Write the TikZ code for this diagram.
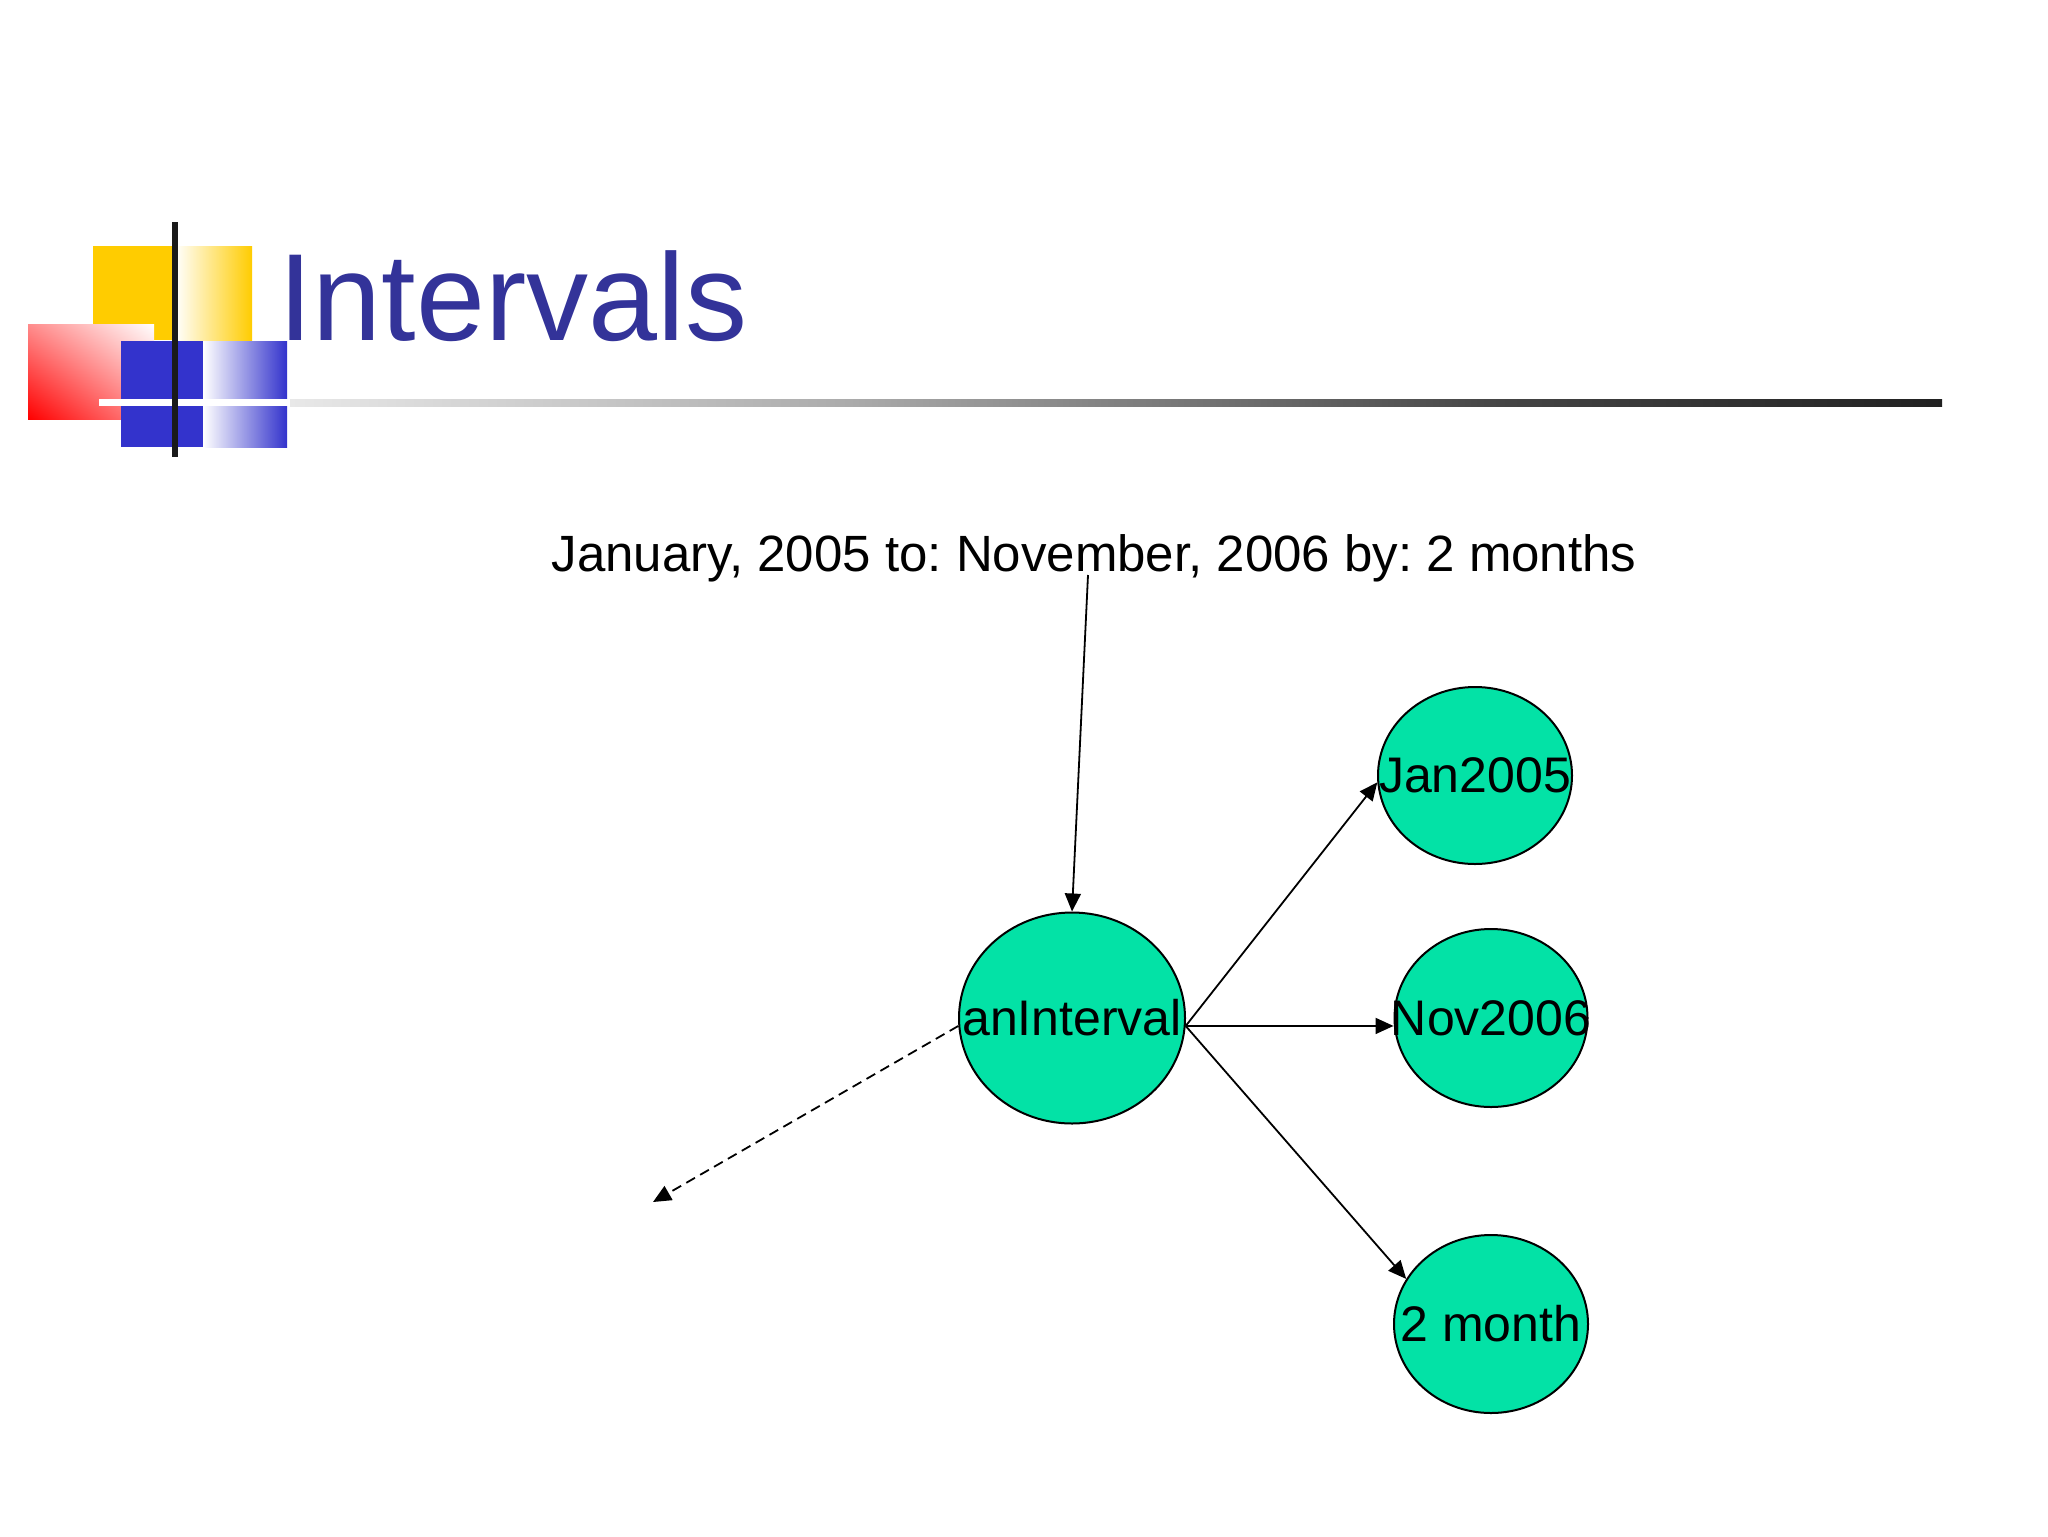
\documentclass[tikz,border=0pt]{standalone}
\usepackage{fontspec}
\setmainfont{Liberation Sans}
\usetikzlibrary{shapes.geometric,arrows.meta,shadings}
\definecolor{ttl}{HTML}{333399}
\definecolor{ylw}{HTML}{FFCC00}
\definecolor{blu}{HTML}{3333CC}
\definecolor{nodefill}{HTML}{03E2A6}
\definecolor{barblack}{HTML}{1A1A1A}
\frenchspacing
\tikzset{
  oval/.style={ellipse, draw=black, line width=1pt, fill=nodefill, inner sep=0pt,
    font=\fontsize{25pt}{30pt}\selectfont},
  arr/.style={line width=0.9pt, -{Triangle[length=9pt,width=8pt]}},
  dasharr/.style={arr, dash pattern=on 5pt off 3pt},
}
\begin{document}
\begin{tikzpicture}[x=0.5pt,y=-0.5pt]
\useasboundingbox (0,0) rectangle (2048,1536);
\fill[white] (0,0) rectangle (2048,1536);
% logo
\fill[ylw] (93,246) rectangle (175,340);
\shade[left color=white, right color=ylw] (175,246) rectangle (252,340);
\shade[lower left=red, upper right=white, upper left=red!45, lower right=red!45] (28,324) rectangle (154,419);
\fill[blu] (121,341) rectangle (203,447);
\shade[left color=white, right color=blu] (203,341) rectangle (287,447);
\fill[white] (99,399) rectangle (290,406);
\shade[left color=black!9, right color=black!33] (290,399) rectangle (850,406);
\shade[left color=black!33, right color=black!73] (850,399) rectangle (1500,406);
\shade[left color=black!73, right color=black!87] (1500,399) rectangle (1942,406);
\fill[barblack] (172,222) rectangle (178,457);
% title
\node[anchor=base west, inner sep=0pt, text=ttl, font=\fontsize{62pt}{70pt}\selectfont] (title) at (278,340) {Intervals};
% subtitle
\node[anchor=base, inner sep=0pt, font=\fontsize{25.5pt}{30pt}\selectfont] (sub) at (1094,571) {January, 2005 to: November, 2006 by: 2 months};
% nodes
\node[oval, minimum width=113pt, minimum height=105.5pt] (ai) at (1072,1018) {\makebox[0pt]{anInterval}};
\node[oval, minimum width=97pt, minimum height=88.5pt] (jan) at (1475,775.5) {\makebox[0pt]{Jan2005}};
\node[oval, minimum width=96.5pt, minimum height=89pt] (nov) at (1491,1018) {\makebox[0pt]{Nov2006}};
\node[oval, minimum width=97pt, minimum height=89pt] (mon) at (1491,1324) {\makebox[0pt]{2 month}};
% connectors
\coordinate (s0) at (1088,575);
\coordinate (d0) at (653,1202);
\draw[arr] (s0) -- (ai.north);
\draw[arr] (ai.-4) -- (jan.184);
\draw[arr] (ai.-4) -- (ai.-4 -| nov.west);
\draw[arr] (ai.-4) -- (mon.152);
\draw[dasharr] (ai.184) -- (d0);
\end{tikzpicture}
\end{document}
